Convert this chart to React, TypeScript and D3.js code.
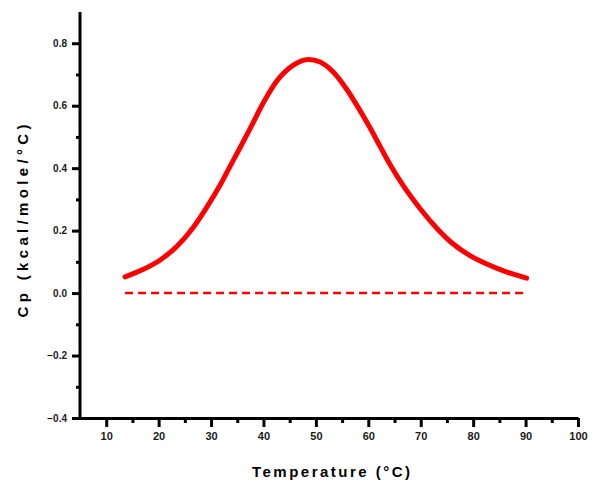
import React, { useEffect, useRef } from 'react';
import * as d3 from 'd3';

// DSC trace (temperature in °C, Cp in kcal/mole/°C)
const temps = [13.6, 17.1, 20.3, 23.5, 26.6, 29.2, 31.7, 33.6, 35.2, 37.4, 40.0, 42.5, 45.7, 48.6, 50.8, 53.3, 55.9, 58.4, 60.3, 62.3, 64.2, 66.7, 69.9, 73.1, 76.2, 79.4, 82.6, 85.8, 90.2];
const cpValues = [0.052, 0.076, 0.106, 0.150, 0.210, 0.275, 0.345, 0.405, 0.455, 0.525, 0.610, 0.678, 0.730, 0.748, 0.740, 0.708, 0.652, 0.585, 0.530, 0.468, 0.410, 0.343, 0.270, 0.207, 0.157, 0.120, 0.093, 0.071, 0.048];
const baselineTemps = [13.6, 90.2];
const baselineValues = [0, 0];

const xTicks = [10, 20, 30, 40, 50, 60, 70, 80, 90, 100];
const xMinor = [15, 25, 35, 45, 55, 65, 75, 85, 95];
const yTicks = [-0.4, -0.2, 0.0, 0.2, 0.4, 0.6, 0.8];
const yMinor = [-0.3, -0.1, 0.1, 0.3, 0.5, 0.7];

const W = 602, H = 493;

export default function App() {
  const ref = useRef<SVGSVGElement>(null);

  useEffect(() => {
    const svg = d3.select(ref.current);
    svg.selectAll('*').remove();

    const x = d3.scaleLinear().domain([5, 100]).range([80, 578]);
    const y = d3.scaleLinear().domain([-0.4, 0.9]).range([418, 12]);

    const font = 'Liberation Sans, Arial, sans-serif';

    // minor ticks first so major axis sits on top
    svg.append('g').attr('transform', 'translate(0,418)')
      .call(d3.axisBottom(x).tickValues(xMinor).tickSize(5).tickSizeOuter(0).tickFormat(() => ''))
      .call(g => g.select('.domain').remove())
      .call(g => g.selectAll('line').attr('stroke', '#000').attr('stroke-width', 3));
    svg.append('g').attr('transform', 'translate(80,0)')
      .call(d3.axisLeft(y).tickValues(yMinor).tickSize(4).tickSizeOuter(0).tickFormat(() => ''))
      .call(g => g.select('.domain').remove())
      .call(g => g.selectAll('line').attr('stroke', '#000').attr('stroke-width', 3));

    // bottom axis
    const gx = svg.append('g').attr('transform', 'translate(0,418)')
      .call(d3.axisBottom(x).tickValues(xTicks).tickSize(9).tickSizeOuter(0).tickPadding(5));
    gx.select('.domain').attr('stroke', '#000').attr('stroke-width', 3);
    gx.selectAll('line').attr('stroke', '#000').attr('stroke-width', 3);
    gx.selectAll('text').attr('font-family', font).attr('font-weight', 'bold')
      .attr('font-size', 11).attr('fill', '#1a1a1a');

    // left axis
    const gy = svg.append('g').attr('transform', 'translate(80,0)')
      .call(d3.axisLeft(y).tickValues(yTicks).tickSize(8).tickSizeOuter(0).tickPadding(5)
        .tickFormat(d3.format('.1f')));
    gy.select('.domain').attr('stroke', '#000').attr('stroke-width', 3)
      .attr('d', `M0,${y(0.9)}V${y(-0.4) + 2}`);
    gy.selectAll('line').attr('stroke', '#000').attr('stroke-width', 3);
    gy.selectAll('text').attr('font-family', font).attr('font-weight', 'bold')
      .attr('font-size', 10).attr('fill', '#1a1a1a');

    // Cp curve
    const pts = temps.map((t, i) => [t, cpValues[i]] as [number, number]);
    const line = d3.line<[number, number]>()
      .x(d => x(d[0]))
      .y(d => y(d[1]))
      .curve(d3.curveMonotoneX);
    svg.append('path').datum(pts)
      .attr('d', line)
      .attr('fill', 'none')
      .attr('stroke', '#ff0000')
      .attr('stroke-width', 5)
      .attr('stroke-linecap', 'round')
      .attr('stroke-linejoin', 'round');

    // dashed baseline
    const base = baselineTemps.map((t, i) => [t, baselineValues[i]] as [number, number]);
    svg.append('path').datum(base)
      .attr('d', d3.line<[number, number]>().x(d => x(d[0])).y(d => y(d[1])))
      .attr('fill', 'none')
      .attr('stroke', '#ff0000')
      .attr('stroke-width', 2.5)
      .attr('stroke-dasharray', '8,5');

    // axis titles
    svg.append('text')
      .attr('x', 331).attr('y', 477)
      .attr('text-anchor', 'middle')
      .attr('font-family', font).attr('font-weight', 'bold').attr('font-size', 15)
      .attr('textLength', 158).attr('lengthAdjust', 'spacing')
      .text('Temperature (°C)');

    svg.append('text')
      .attr('transform', 'translate(28,221) rotate(-90)')
      .attr('text-anchor', 'middle')
      .attr('font-family', font).attr('font-weight', 'bold').attr('font-size', 15)
      .attr('textLength', 193).attr('lengthAdjust', 'spacing')
      .text('Cp (kcal/mole/°C)');
  }, []);

  return (
    <svg ref={ref} width={W} height={H}
      style={{ position: 'absolute', left: 0, top: 0, background: '#fff' }} />
  );
}
